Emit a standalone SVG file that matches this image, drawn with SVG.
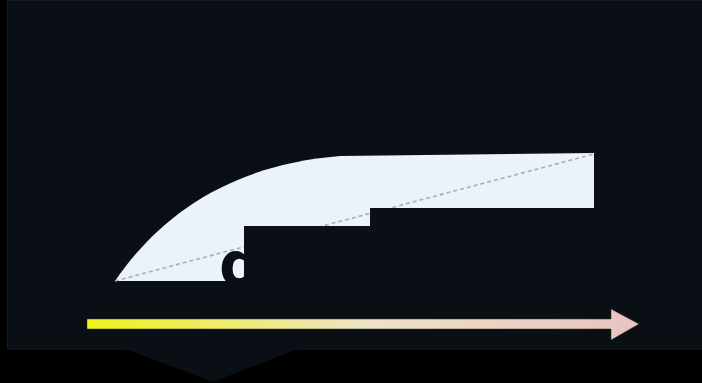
<svg xmlns="http://www.w3.org/2000/svg" width="702" height="383" viewBox="0 0 702 383">
  <style>
    .panel { fill: #0a0e15; }
    .area { fill: #ebf2fa; }
    .guide { fill: none; stroke: #a9aeb5; stroke-width: 1.6; stroke-dasharray: 4 3; }
    .label { font-family: "DejaVu Sans", "Liberation Sans", sans-serif; font-weight: bold; font-size: 60px; fill: #0a0e15; }
  </style>
  <defs>
    <linearGradient id="flow" x1="87" y1="0" x2="640" y2="0" gradientUnits="userSpaceOnUse">
      <stop offset="0" stop-color="#eff418"/>
      <stop offset="0.5" stop-color="#ede3c6"/>
      <stop offset="1" stop-color="#e8c3c3"/>
    </linearGradient>
  </defs>
  <rect x="0" y="0" width="702" height="383" fill="#000000"/>
  <g id="panel">
    <rect class="panel" x="7.5" y="0.5" width="695" height="348.5" stroke="#141a22" stroke-width="1"/>
    <polygon class="panel" points="123,348 300,348 213,382"/>
  </g>
  <g id="area">
    <path class="area" d="M115,281 C160,215 230,165 340,156 L594,153 L594,281 Z"/>
  </g>
  <g id="connectors">
    <line class="guide" x1="115" y1="281" x2="594" y2="154"/>
  </g>
  <g id="mask">
    <path class="panel" d="M244,226 L370,226 L370,208 L595,208 L595,290 L244,290 Z"/>
    <text class="label" x="219" y="285">d</text>
  </g>
  <g id="flow-arrow">
    <path d="M87,319 L611,319 L611,309 L639,324 L611,340 L611,329 L87,329 Z" fill="url(#flow)" stroke="#3a3a20" stroke-width="0.5"/>
  </g>
</svg>
